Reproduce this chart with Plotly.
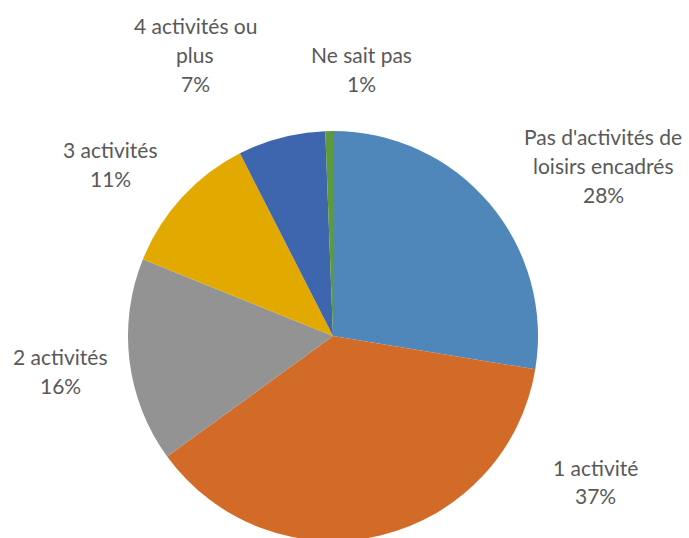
import plotly.graph_objects as go

labels = ["Pas d'activités de loisirs encadrés", "1 activité", "2 activités",
          "3 activités", "4 activités ou plus", "Ne sait pas"]
values = [27.6, 37.4, 16.1, 11.4, 6.9, 0.6]
colors = ["#4f87bb", "#d26b28", "#939393", "#e2a900", "#3e66ae", "#5c9a3a"]

# label text blocks (lines) and their centre positions in pixels
label_lines = [
    ["Pas d'activités de", "loisirs encadrés"],
    ["1 activité"],
    ["2 activités"],
    ["3 activités"],
    ["4 activités ou", "plus"],
    ["Ne sait pas"],
]
label_pos = [(603, 136), (595, 467), (60, 356), (110, 150), (195, 26), (362, 55)]

W, H = 689, 541
LINE = 29

fig = go.Figure(go.Pie(
    labels=labels, values=values, sort=False, direction="clockwise", rotation=0,
    marker=dict(colors=colors, line=dict(width=0)),
    textinfo="none", hoverinfo="label+percent",
    domain=dict(x=[128 / W, 538 / W], y=[0, 1 - 131 / H]),
    showlegend=False,
))

total = sum(values)
annotations = []
for lines, (px, py), v in zip(label_lines, label_pos, values):
    allines = lines + [f"{round(v / total * 100)}%"]
    for i, t in enumerate(allines):
        annotations.append(dict(
            text=t, x=px / W, y=1 - (py + i * LINE) / H, xref="paper", yref="paper",
            showarrow=False, xanchor="center", yanchor="middle",
            font=dict(family="Lato", size=21, color="#595959"),
        ))

fig.update_layout(
    width=W, height=H, margin=dict(l=0, r=0, t=0, b=0),
    paper_bgcolor="white", plot_bgcolor="white",
    annotations=annotations,
)
fig.write_html(
    "out.html",
    config={"displayModeBar": False},
    post_script="document.body.style.margin='0';document.body.style.overflow='hidden';",
)
